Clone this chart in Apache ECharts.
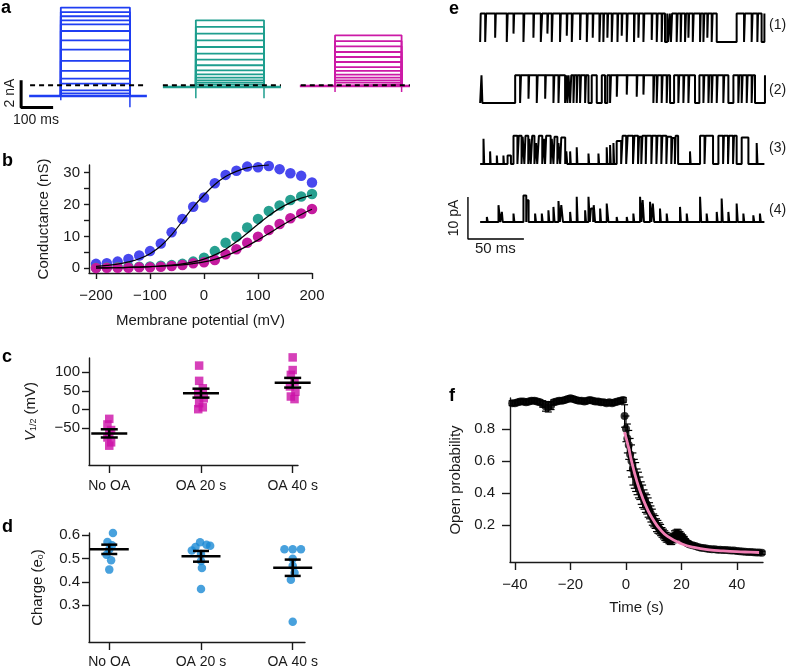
<!DOCTYPE html>
<html><head><meta charset="utf-8">
<script src="https://cdn.jsdelivr.net/npm/echarts@6/dist/echarts.min.js"></script>
<style>html,body{margin:0;padding:0;background:#fff}#c{width:788px;height:670px}</style>
</head><body><div id="c"></div>
<script>
// ---------------- Panel a : macroscopic current families (nA vs ms) ----------------
const aBlueLevels = [5.74, 5.41, 5.10, 4.80, 4.50, 4.01, 3.32, 2.64, 1.80, 1.06, 0.49, 0.12, -0.37, -0.60];
const aBlueBase = -0.79;
const aBlueTimes = [91, 190, 406, 459];      // baseline start, pulse on, pulse off, baseline end
const aBlueSpikes = [-1.10, -1.62];
const aBlueDash = [94, 459];
const aTealLevels = [4.80, 4.31, 3.82, 3.32, 2.83, 2.34, 1.90, 1.48, 1.11, 0.81, 0.57, 0.37, 0.20, 0.05];
const aTealBase = -0.12;
const aTealTimes = [509, 612, 825, 878];
const aTealSpikes = [-0.96, -0.96];
const aTealDash = [509, 878];
const aMagLevels = [3.69, 3.27, 2.88, 2.46, 2.09, 1.72, 1.35, 1.06, 0.79, 0.57, 0.37, 0.20, 0.07];
const aMagBase = -0.05;
const aMagTimes = [937, 1047, 1255, 1281];
const aMagSpikes = [-0.5, -0.5];
const aMagDash = [940, 1281];

// ---------------- Panel b : conductance vs voltage ----------------
const bVoltage = [-200,-180,-160,-140,-120,-100,-80,-60,-40,-20,0,20,40,60,80,100,120,140,160,180,200];
const bBlue = [1.4,1.6,2.1,2.9,4.0,5.4,7.8,11.3,15.5,19.3,22.2,26.7,29.3,30.6,31.9,31.7,32.1,31.1,29.8,29.0,26.9];
const bTeal = [0.2,0.3,0.4,0.5,0.5,0.6,0.8,1.0,1.4,2.1,3.3,5.4,8.0,9.9,12.8,15.5,18.0,19.7,21.4,22.5,23.3];
const bMag  = [0.1,0.2,0.2,0.2,0.3,0.3,0.5,0.7,1.0,1.6,1.9,2.6,4.4,6.0,8.0,9.9,12.0,13.9,15.7,17.2,18.6];
const bBlueFitV = [-200,-180,-160,-140,-120,-100,-80,-60,-40,-20,0,20,40,60,80,100,120];
const bBlueFit  = [0.6,0.9,1.3,2.0,3.0,4.6,7.0,10.5,14.8,19.2,23.0,26.3,28.8,30.4,31.5,32.1,32.4];
const bTealFit  = [0.1,0.15,0.2,0.3,0.4,0.55,0.75,1.0,1.4,2.0,2.9,4.2,6.0,8.3,11.0,13.8,16.5,18.8,20.6,22.0,23.0];
const bMagFit   = [0.1,0.15,0.2,0.3,0.4,0.5,0.65,0.85,1.1,1.5,2.0,2.8,3.9,5.3,7.0,8.9,10.9,13.0,15.0,16.9,18.5];

// ---------------- Panels c, d : per-condition values ----------------
const conditions = ['No OA', 'OA 20 s', 'OA 40 s'];
const cNoOA = [-25, -40, -55, -63, -75, -88, -97];
const cOA20 = [118, 77, 57, 44, 30, 17, 6, 1];
const cOA40 = [140, 106, 93, 75, 62, 48, 35, 28];
const cJit0 = [0, -0.02, 0.02, 0, -0.02, 0.02, 0];
const cJit1 = [-0.02, -0.02, 0.02, -0.03, 0.03, -0.02, 0.02, -0.03];
const cJit2 = [0, 0, -0.02, 0.02, -0.03, 0.03, -0.02, 0.02];
const cMean = [-64, 44, 72];
const cSE = [11, 12, 13];
const dNoOA = [0.61, 0.571, 0.557, 0.539, 0.517, 0.493, 0.453];
const dOA20 = [0.57, 0.56, 0.555, 0.55, 0.535, 0.52, 0.49, 0.46, 0.37];
const dOA40 = [0.54, 0.54, 0.54, 0.50, 0.47, 0.44, 0.41, 0.23];
const dJit0 = [0.04, -0.02, 0.03, 0, -0.03, 0.02, 0];
const dJit1 = [-0.01, 0.06, 0.1, -0.06, -0.1, 0, 0, 0.01, 0];
const dJit2 = [-0.09, 0, 0.09, 0, 0, 0.02, -0.02, 0];
const dMean = [0.54, 0.51, 0.461];
const dSE = [0.02, 0.023, 0.035];

// ---------------- Panel e : single-channel traces (ms, pA) ----------------
// events: [start ms, duration ms, level pA]
const eTrace1Base = 6.8;
const eTrace1 = [[0,0.5,0],[4.5,0.8,0],[13.4,0.6,1],[23.8,0.8,0],[29.8,0.6,2],[38.7,0.8,0],[47.6,0.6,1],[54.2,1.2,0],[60.1,0.6,2],[64,0.8,0],[71.4,0.7,0],[77.4,0.6,1.5],[81.9,0.8,0],[89.3,0.6,0.5],[95.3,0.8,0],[100.6,0.6,1],[106.6,0.8,0],[110.1,0.6,0],[113.7,0.6,1],[117.6,0.8,0],[122.7,0.6,0],[126.5,0.6,1.5],[131,0.8,0],[137.5,0.6,0],[141.4,0.6,1],[145.9,0.8,0],[153.3,0.6,0.5],[157.8,0.8,0],[162.2,0.6,0],[165.2,2.0,0],[168,1.5,0],[170.5,1.0,0],[175.6,0.8,0],[179.2,0.6,0],[183.1,0.8,0],[186.1,0.6,1],[190,0.8,0],[196.5,0.6,0],[199.5,0.8,0],[203,0.6,1],[206.9,0.8,0],[211.4,17.8,0],[235.8,0.8,0],[242.6,0.8,0],[247.7,0.6,0],[251.5,2.5,0]];
const eTrace2Base = 6.6;
const eTrace2 = [[0,1.2,0],[2.0,29.3,0],[35.7,0.8,0],[43.2,0.6,1],[50.6,0.8,0],[58.1,0.6,1],[65.5,0.8,0],[70,0.8,0],[75.9,1.2,0],[78,1.0,0],[80.4,1.0,0],[83.4,0.8,0],[86.3,0.8,0],[89.3,0.8,0],[93.8,0.8,0],[96.8,2.9,0],[104.2,4.5,0],[111.6,2.1,0],[116.1,0.8,0],[122.1,0.6,1.5],[131,0.6,2],[139.9,0.6,1.5],[145.9,0.6,2],[154.8,0.8,0],[157.8,0.8,0],[162.2,0.8,0],[166.7,0.8,0],[169.7,3.6,0],[177.1,0.8,0],[181.6,0.8,0],[186.1,0.8,0],[192,3.9,0],[199.5,0.8,0],[204,0.8,0],[206.9,0.8,0],[211.4,0.8,0],[217.3,0.8,0],[221.8,4.5,0],[230.7,0.8,0],[233.7,0.8,0],[238.2,0.8,0],[242.6,0.8,0],[245.6,8.9,0]];
const eTrace3Base = 0;
const eTrace3 = [[3,0.6,6],[8.9,0.5,3],[14.9,0.5,2],[20.8,0.5,2],[24.5,3,2],[29.8,3.5,6.7],[34.5,2.5,6.7],[38,1.5,6.5],[40.5,2.5,6.7],[44,1.2,6.0],[46.5,2.0,6.7],[50,1.0,5],[52.5,3.0,6.7],[57,1.0,6],[59,4,6.7],[64,1.5,6],[66.5,2.5,6.5],[70,1.5,5],[72.5,3.5,6.3],[77,0.8,3],[80.4,0.6,3],[86.3,0.6,4],[96.8,0.6,2.5],[105.7,0.6,2.5],[113.1,0.6,4],[116.1,0.6,4.5],[119.1,0.6,5],[122,4,5.5],[127.3,3.2,6.7],[131.8,4.8,6.7],[137.8,3.3,6.7],[142,2,6.5],[145,3,6.7],[148.5,4.5,6.7],[153.8,3.7,6.7],[158.4,3.5,6.7],[162.8,3.6,6.7],[167.2,3.6,6.5],[171.8,2.2,6.2],[174.7,2.2,6.7],[187.5,0.6,3],[196.5,4,6.7],[201.3,6.8,6.7],[212.9,4.2,6.7],[217.8,3.7,6.7],[222.3,3.7,6.7],[226.8,2.4,6.7],[233.7,6,6.3],[247.1,0.7,5]];
const eTrace4Base = 0;
const eTrace4 = [[6,0.8,1.2],[16.4,1.5,4],[19.4,0.8,2.4],[29.8,0.8,2],[38.7,2.5,6.3],[41.5,1.8,5.2],[49.1,0.8,2],[55.1,0.8,2],[61,0.8,2.8],[65.5,1,3.6],[70,1.2,5],[72.5,1.5,4],[80.4,0.8,2.4],[86.3,0.8,6],[93.8,0.8,2.8],[96.8,1.2,6],[99,2,3.2],[101.5,1.2,4],[107.2,0.8,3.2],[113.1,1.5,4.4],[122,0.8,1.2],[131,0.8,1.2],[136.9,0.8,2],[142.9,1.2,6],[145.2,1.2,5.2],[151.8,1.2,4.8],[154.3,1.2,4.4],[160.7,0.8,3.2],[166.7,0.8,2],[178.6,0.8,3.6],[184.6,0.8,2],[196.5,1,6],[202.4,0.8,2],[211.4,0.8,2.4],[215.8,1,5.6],[221.8,0.8,2.4],[229.2,1,4.4],[235.2,0.8,2],[244.1,0.8,1.6],[250,0.8,2]];
const eTraceSpan = [0, 254];
const eTraceLabels = ['(1)', '(2)', '(3)', '(4)'];

// ---------------- Panel f : open probability vs time ----------------
const fTime = [-41,-40,-39,-38,-37,-36,-35,-34,-33,-32,-31,-30,-29,-28,-27,-26,-25,-24,-23,-22,-21,-20,-19,-18,-17,-16,-15,-14,-13,-12,-11,-10,-9,-8,-7,-6,-5,-4,-3,-2,-1,-0.5,
 0,0.5,1,1.5,2,2.5,3,3.5,4,4.5,5,5.5,6,6.5,7,7.5,8,8.5,9,9.5,10,10.5,11,11.5,12,12.5,13,13.5,14,14.5,15,15.5,16,16.5,17,17.5,18,18.5,19,19.5,20,20.5,21,21.5,22,22.5,23,24,25,26,27,28,29,30,31,32,33,34,35,36,37,38,39,40,41,42,43,44,45,46,47,48,49];
const fPo = [0.96,0.96,0.965,0.97,0.97,0.965,0.97,0.975,0.975,0.97,0.965,0.955,0.94,0.935,0.945,0.965,0.97,0.975,0.975,0.98,0.985,0.99,0.985,0.98,0.975,0.975,0.97,0.975,0.98,0.975,0.97,0.97,0.965,0.965,0.96,0.965,0.96,0.965,0.97,0.975,0.98,0.88,
 0.80,0.74,0.70,0.64,0.60,0.55,0.52,0.50,0.47,0.45,0.43,0.40,0.38,0.36,0.34,0.33,0.31,0.29,0.27,0.25,0.23,0.22,0.20,0.19,0.18,0.17,0.155,0.145,0.135,0.125,0.12,0.11,0.105,0.11,0.12,0.135,0.14,0.145,0.14,0.135,0.13,0.12,0.11,0.10,0.09,0.085,0.08,0.075,0.07,0.065,0.06,0.058,0.055,0.052,0.05,0.05,0.048,0.047,0.046,0.045,0.044,0.043,0.042,0.04,0.038,0.037,0.035,0.034,0.033,0.032,0.03,0.03,0.028];
const fErr = [0.015,0.015,0.015,0.015,0.015,0.015,0.015,0.015,0.015,0.015,0.015,0.02,0.03,0.03,0.025,0.015,0.015,0.015,0.015,0.015,0.015,0.015,0.015,0.015,0.015,0.015,0.015,0.015,0.015,0.015,0.015,0.015,0.015,0.015,0.015,0.015,0.015,0.015,0.015,0.015,0.015,0.07,
 0.08,0.09,0.09,0.1,0.1,0.1,0.09,0.09,0.08,0.08,0.07,0.07,0.07,0.06,0.06,0.06,0.06,0.05,0.05,0.05,0.04,0.04,0.04,0.04,0.035,0.035,0.03,0.03,0.03,0.03,0.025,0.025,0.025,0.03,0.03,0.03,0.03,0.03,0.03,0.025,0.02,0.02,0.02,0.015,0.015,0.015,0.012,0.012,0.01,0.01,0.01,0.01,0.01,0.01,0.01,0.01,0.01,0.01,0.01,0.01,0.01,0.01,0.01,0.01,0.01,0.01,0.01,0.01,0.01,0.01,0.01,0.01,0.01];
const fFitTime = [-0.5,1,2,4,6,8,10,12,15,20,25,30,35,40,45,48];
const fFit = [0.78,0.68,0.60,0.47,0.37,0.29,0.23,0.18,0.13,0.085,0.06,0.047,0.04,0.035,0.032,0.03];

// ===================================================================
const FONT = '"Liberation Sans", Arial, Helvetica, sans-serif';
const AX = '#1a1a1a';
const BLUE_A = '#1f3ef2', TEAL_A = '#1e9e8e', MAG_A = '#cc1aa6';
const BLUE_B = '#4848ee', TEAL_B = '#27a090', MAG_B = '#c41a9e';
const MAG_C = '#cc10a8', BLUE_D = '#1a8ad4', PINK = '#f07fb4';
function minus(v){ return v < 0 ? '\u2212' + Math.abs(v) : String(v); }
const zip = (xs, ys) => xs.map((x, i) => [x, ys[i]]);

const grids = [
  {left: 0, top: 0, width: 420, height: 130},           // a
  {left: 89, top: 165, width: 223, height: 108},        // b
  {left: 89, top: 358, width: 209, height: 107},        // c
  {left: 89, top: 533, width: 216, height: 109},        // d
  {left: 460, top: 8.4, width: 310, height: 42},        // e1
  {left: 460, top: 69.4, width: 310, height: 42},       // e2
  {left: 460, top: 130.4, width: 310, height: 42},      // e3
  {left: 460, top: 188.4, width: 310, height: 52.5},    // e4
  {left: 510, top: 398, width: 253, height: 164}        // f
];

function hidden(gi, min, max){ return {type: 'value', gridIndex: gi, min, max, show: false}; }
function shown(gi, min, max, labels, ticks, o){
  o = o || {};
  return {
    type: 'value', gridIndex: gi, min, max,
    name: o.name || '', nameLocation: 'middle', nameGap: o.nameGap || 30, nameRotate: o.nameRotate,
    nameTextStyle: Object.assign({fontFamily: FONT, fontSize: 15, color: AX}, o.nameStyle || {}),
    axisLine: {show: true, onZero: false, lineStyle: {color: AX, width: 1.4}},
    axisTick: {show: true, customValues: ticks, length: o.tickLen || 6, lineStyle: {color: AX, width: 1.4}},
    axisLabel: {show: true, customValues: labels, margin: o.margin || 8, fontFamily: FONT, fontSize: o.labelSize || 15, color: AX,
      formatter: o.formatter || minus},
    splitLine: {show: false}
  };
}

const xAxis = [
  hidden(0, 0, 1312.5),
  shown(1, -213, 200, [-200,-100,0,100,200], [-200,-100,0,100,200], {name: 'Membrane potential (mV)', nameGap: 40, tickLen: 6, margin: 15}),
  shown(2, -0.221, 2.058, [0,1,2], [0,1,2], {formatter: v => conditions[Math.round(v)], tickLen: 8, margin: 14, labelSize: 14}),
  shown(3, -0.221, 2.134, [0,1,2], [0,1,2], {formatter: v => conditions[Math.round(v)], tickLen: 8, margin: 13, labelSize: 14}),
  hidden(4, -18, 259), hidden(5, -18, 259), hidden(6, -18, 259), hidden(7, -18, 259),
  shown(8, -41.8, 49.4, [-40,-20,0,20,40], [-40,-20,0,20,40], {name: 'Time (s)', nameGap: 38, tickLen: 8, margin: 15})
];
const yAxis = [
  hidden(0, -3.3, 6.3),
  shown(1, -1.47, 32.4, [0,10,20,30], [0,5,10,15,20,25,30], {name: 'Conductance (nS)', nameRotate: 90, nameGap: 38, tickLen: 5, margin: 9}),
  shown(2, -148.9, 138.4, [-50,0,50,100], [-50,0,50,100], {name: '{i|V}{s|1/2} (mV)', nameRotate: 90, nameGap: 51, tickLen: 7, margin: 9,
     nameStyle: {rich: {i: {fontStyle: 'italic', fontSize: 15, fontFamily: FONT, color: AX}, s: {fontSize: 9, fontFamily: FONT, color: AX, verticalAlign: 'bottom', padding: [6,0,0,0]}}}}),
  shown(3, 0.1427, 0.61, [0.3,0.4,0.5,0.6], [0.3,0.4,0.5,0.6], {name: 'Charge (e{s|o})', nameRotate: 90, nameGap: 44, tickLen: 7, margin: 9,
     formatter: v => v.toFixed(1),
     nameStyle: {rich: {s: {fontSize: 9, fontFamily: FONT, color: AX, verticalAlign: 'bottom', padding: [6,0,0,0]}}}}),
  hidden(4, -2, 8), hidden(5, -2, 8), hidden(6, -2, 8), hidden(7, -4.5, 8),
  shown(8, -0.029, 0.992, [0.2,0.4,0.6,0.8], [0.2,0.4,0.6,0.8], {name: 'Open probability', nameRotate: 90, nameGap: 47, tickLen: 8, margin: 15,
     formatter: v => v.toFixed(1)})
];

const series = [];
function line(gi, data, color, width, extra){
  series.push(Object.assign({type: 'line', xAxisIndex: gi, yAxisIndex: gi, data, showSymbol: false, symbol: 'none',
    lineStyle: {color, width: width}, silent: true, animation: false, clip: false}, extra || {}));
}

// ---- panel a
function family(levels, base, times, spikes, dash, color){
  const [t0, ton, toff, t1] = times;
  line(0, [[t0, base], [t1, base]], color, 2.6);
  levels.forEach(l => line(0, [[ton, base], [ton, l], [toff, l], [toff, base]], color, 1.8));
  line(0, [[ton, base], [ton, spikes[0]]], color, 1.5);
  line(0, [[toff, base], [toff, spikes[1]]], color, 1.5);
  line(0, [[dash[0], 0], [dash[1], 0]], '#000', 2, {lineStyle: {color: '#000', width: 2, type: [5, 4]}, z: 5});
}
family(aBlueLevels, aBlueBase, aBlueTimes, aBlueSpikes, aBlueDash, BLUE_A);
family(aTealLevels, aTealBase, aTealTimes, aTealSpikes, aTealDash, TEAL_A);
family(aMagLevels, aMagBase, aMagTimes, aMagSpikes, aMagDash, MAG_A);
// scale bar 100 ms / 2 nA
line(0, [[66, -1.63 + 2], [66, -1.63], [66 + 100, -1.63]], '#000', 3);

// ---- panel b
[[bBlue, BLUE_B], [bTeal, TEAL_B], [bMag, MAG_B]].forEach(([v, c]) => series.push({
  type: 'scatter', xAxisIndex: 1, yAxisIndex: 1, data: zip(bVoltage, v), symbolSize: 10.5,
  itemStyle: {color: c, opacity: 1}, clip: false, silent: true, animation: false}));
line(1, zip(bBlueFitV, bBlueFit), '#000', 1.2, {smooth: 0.4, z: 4});
line(1, zip(bVoltage, bTealFit), '#000', 1.2, {smooth: 0.4, z: 4});
line(1, zip(bVoltage, bMagFit), '#000', 1.2, {smooth: 0.4, z: 4});

// ---- mean +/- SE renderer
function meanSE(halfW, capW, lw){
  return function(params, api){
    const x = api.value(0), m = api.value(1), se = api.value(2);
    const pm = api.coord([x, m]), ph = api.coord([x, m + se]), pl = api.coord([x, m - se]);
    const st = {stroke: '#000', lineWidth: lw};
    const L = (x1, y1, x2, y2) => ({type: 'line', shape: {x1, y1, x2, y2}, style: st});
    return {type: 'group', children: [
      L(pm[0] - halfW, pm[1], pm[0] + halfW, pm[1]),
      L(ph[0], ph[1], pl[0], pl[1]),
      L(ph[0] - capW, ph[1], ph[0] + capW, ph[1]),
      L(pl[0] - capW, pl[1], pl[0] + capW, pl[1])
    ]};
  };
}
// ---- panel c
[[cNoOA, cJit0, 0], [cOA20, cJit1, 1], [cOA40, cJit2, 2]].forEach(([v, j, k]) => series.push({
  type: 'scatter', xAxisIndex: 2, yAxisIndex: 2, data: v.map((y, i) => [k + j[i], y]), symbol: 'rect', symbolSize: 8.5,
  itemStyle: {color: MAG_C}, clip: false, silent: true, animation: false}));
series.push({type: 'custom', xAxisIndex: 2, yAxisIndex: 2, data: cMean.map((m, i) => [i, m, cSE[i]]),
  renderItem: meanSE(18, 8.5, 2.5), z: 5, silent: true, animation: false, clip: false, encode: {x: 0, y: 1}});
// ---- panel d
[[dNoOA, dJit0, 0], [dOA20, dJit1, 1], [dOA40, dJit2, 2]].forEach(([v, j, k]) => series.push({
  type: 'scatter', xAxisIndex: 3, yAxisIndex: 3, data: v.map((y, i) => [k + j[i], y]), symbolSize: 8.5,
  itemStyle: {color: BLUE_D}, clip: false, silent: true, animation: false}));
series.push({type: 'custom', xAxisIndex: 3, yAxisIndex: 3, data: dMean.map((m, i) => [i, m, dSE[i]]),
  renderItem: meanSE(19.5, 8, 2.5), z: 5, silent: true, animation: false, clip: false, encode: {x: 0, y: 1}});

// ---- panel e
function buildTrace(base, events){
  const pts = [];
  events.forEach(([s, d, l], i) => {
    if (i === 0 && s <= eTraceSpan[0]) pts.push([s, l]);
    else { if (i === 0) pts.push([eTraceSpan[0], base]); pts.push([s, base], [s, l]); }
    pts.push([s + d, l], [s + d, base]);
  });
  pts.push([eTraceSpan[1], base]);
  return pts;
}
line(4, buildTrace(eTrace1Base, eTrace1), '#000', 2);
line(5, buildTrace(eTrace2Base, eTrace2), '#000', 2);
line(6, buildTrace(eTrace3Base, eTrace3), '#000', 2);
line(7, buildTrace(eTrace4Base, eTrace4), '#000', 2);
// scale bar 50 ms / 10 pA
line(7, [[-10.9, -4.05 + 10], [-10.9, -4.05], [-10.9 + 50, -4.05]], '#000', 1.4);

// ---- panel f
series.push({type: 'custom', xAxisIndex: 8, yAxisIndex: 8, data: fTime.map((t, i) => [t, fPo[i], fErr[i]]),
  renderItem: function(params, api){
    const x = api.value(0), m = api.value(1), e = api.value(2);
    const ph = api.coord([x, m + e]), pl = api.coord([x, m - e]);
    const st = {stroke: '#000', lineWidth: 1.2};
    return {type: 'group', children: [
      {type: 'line', shape: {x1: ph[0], y1: ph[1], x2: pl[0], y2: pl[1]}, style: st},
      {type: 'line', shape: {x1: ph[0] - 3.5, y1: ph[1], x2: ph[0] + 3.5, y2: ph[1]}, style: st},
      {type: 'line', shape: {x1: pl[0] - 3.5, y1: pl[1], x2: pl[0] + 3.5, y2: pl[1]}, style: st}
    ]};
  }, silent: true, animation: false, clip: false, encode: {x: 0, y: 1}});
series.push({type: 'scatter', xAxisIndex: 8, yAxisIndex: 8, data: zip(fTime, fPo), symbolSize: 8,
  itemStyle: {color: '#000'}, clip: false, silent: true, animation: false});
line(8, zip(fFitTime, fFit), PINK, 2.8, {smooth: 0.5, z: 6});

// ---- texts
const T = (text, x, y, o) => Object.assign({type: 'text', x, y, silent: true,
  style: Object.assign({text, fontFamily: FONT, fontSize: 14, fill: AX}, (o && o.style) || {})}, o ? {rotation: o.rotation || 0} : {});
const bold = {style: {fontWeight: 'bold', fontSize: 18, fill: '#000'}};
const graphic = [
  T('a', 1, -1, bold), T('b', 2, 152, bold), T('c', 2, 348, bold), T('d', 2, 518, bold),
  T('e', 449, 0, bold), T('f', 449, 387, bold),
  T('2 nA', 10, 93, {rotation: Math.PI / 2, style: {align: 'center', verticalAlign: 'middle', fontSize: 14}}),
  T('100 ms', 13, 113, {style: {fontSize: 14}}),
  T('10 pA', 454, 218, {rotation: Math.PI / 2, style: {align: 'center', verticalAlign: 'middle', fontSize: 14}}),
  T('50 ms', 475, 241, {style: {fontSize: 15}}),
  T(eTraceLabels[0], 769, 18, {style: {fontSize: 14}}),
  T(eTraceLabels[1], 769, 83, {style: {fontSize: 14}}),
  T(eTraceLabels[2], 769, 141, {style: {fontSize: 14}}),
  T(eTraceLabels[3], 769, 203, {style: {fontSize: 14}})
];

const chart = echarts.init(document.getElementById('c'), null, {renderer: 'canvas'});
chart.setOption({animation: false, backgroundColor: '#fff', textStyle: {fontFamily: FONT},
  grid: grids, xAxis, yAxis, series, graphic});
</script></body></html>
